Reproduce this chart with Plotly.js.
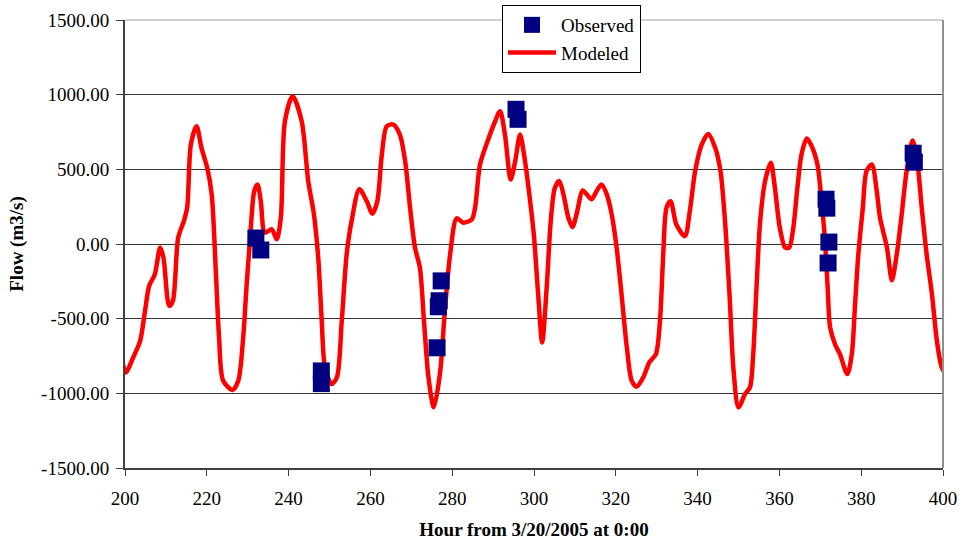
<!DOCTYPE html>
<html>
<head>
<meta charset="utf-8">
<script src="https://cdn.plot.ly/plotly-3.0.1.min.js"></script>
<style>html,body{margin:0;padding:0;background:#fff;}#chart{width:961px;height:542px;}</style>
</head>
<body>
<div id="chart"></div>
<script>
const modeledHours = [198.0,198.4,199.2,200.2,202.0,203.7,204.9,205.9,207.3,208.6,209.4,210.8,211.7,213.0,214.4,215.2,216.1,217.5,218.7,220.1,221.2,222.2,223.0,224.0,226.3,227.7,228.9,229.7,230.6,231.6,232.4,233.2,234.2,235.9,237.1,238.1,239.1,241.0,243.2,244.8,246.2,247.3,248.1,248.9,250.5,251.8,253.0,254.2,255.4,257.3,259.1,260.5,261.7,262.8,264.0,265.6,267.2,268.5,269.7,270.9,272.1,273.1,274.2,275.5,277.0,278.2,279.5,281.1,282.7,284.8,285.6,286.8,288.8,290.5,291.7,292.9,294.3,295.4,296.6,297.8,299.0,300.0,301.0,302.0,303.1,304.1,305.1,306.2,307.2,308.4,309.4,310.4,311.9,312.9,314.1,315.3,316.5,317.8,319.0,320.2,321.4,322.7,323.9,325.1,326.7,328.2,329.8,330.8,331.6,332.4,333.4,334.8,336.9,338.1,339.4,341.0,342.6,344.3,345.6,346.7,347.8,348.8,350.0,351.6,352.8,353.6,354.4,355.3,356.5,357.9,358.9,360.1,361.4,362.4,363.4,364.4,365.4,366.7,367.9,369.3,370.3,371.1,371.8,372.4,373.6,374.8,376.6,377.7,378.5,379.3,380.4,381.3,382.6,383.8,384.6,386.3,387.5,388.7,389.9,391.1,392.6,393.7,394.8,396.0,397.3,398.5,399.7,400.5,402.1];
const modeledFlow = [-130,-515,-760,-860,-760,-648,-448,-281,-202,-24,-91,-414,-381,42,154,243,666,789,644,510,332,-180,-626,-916,-978,-916,-626,-292,42,354,399,287,76,98,31,176,822,989,822,421,198,-114,-515,-827,-938,-894,-515,-69,154,366,287,203,287,600,789,800,733,555,243,-24,-158,-515,-894,-1094,-871,-448,-69,172,143,165,243,533,700,822,889,733,432,555,733,555,300,50,-330,-660,-292,154,376,421,332,176,114,198,359,332,299,354,399,332,198,-24,-336,-693,-916,-956,-894,-793,-738,-515,-69,243,287,131,53,221,488,666,737,644,488,154,-336,-849,-1094,-1005,-960,-738,-292,154,421,544,376,109,-24,-24,109,376,600,706,655,533,287,42,-292,-559,-671,-738,-871,-738,-403,-69,243,488,533,354,176,-24,-243,-69,198,488,693,555,243,-69,-336,-648,-827,-860,-626];
const observedHours = [232.0,233.2,248.0,248.0,276.3,276.6,276.8,277.3,295.6,296.1,371.4,371.6,372.1,371.9,392.7,393.0];
const observedFlow = [40,-40,-850,-935,-695,-420,-380,-247,902,835,300,240,13,-127,608,548];
const yTicks = [-1500,-1000,-500,0,500,1000,1500];
const xTicks = [200,220,240,260,280,300,320,340,360,380,400];

const serif = '"Liberation Serif", "Times New Roman", serif';

const traces = [
  {
    x: modeledHours, y: modeledFlow, name: "Modeled", type: "scatter", mode: "lines",
    line: {color: "#ff0000", width: 4.5, shape: "spline", smoothing: 0.8}
  },
  {
    x: observedHours, y: observedFlow, name: "Observed", type: "scatter", mode: "markers",
    marker: {symbol: "square", size: 17, color: "#000080"}
  }
];

const layout = {
  width: 961, height: 542,
  margin: {l: 125, r: 18, t: 20, b: 74, autoexpand: false},
  paper_bgcolor: "#ffffff", plot_bgcolor: "#ffffff",
  font: {family: serif, size: 19, color: "#000000"},
  showlegend: true,
  legend: {
    x: (502 - 125) / 818, y: (468 - 5) / 448, xanchor: "left", yanchor: "top",
    bgcolor: "#ffffff", bordercolor: "#000000", borderwidth: 1,
    traceorder: "reversed", itemwidth: 48, tracegroupgap: 0,
    font: {family: serif, size: 19, color: "#000000"}
  },
  xaxis: {
    range: [200, 400], tickvals: xTicks, ticktext: xTicks.map(String),
    ticks: "outside", ticklen: 6, tickcolor: "#404040", tickwidth: 1,
    ticklabelstandoff: 6,
    showline: true, linecolor: "#404040", linewidth: 2,
    showgrid: false, zeroline: false, automargin: false,
    tickfont: {family: serif, size: 19, color: "#000000"},
    title: {text: "<b>Hour from 3/20/2005 at 0:00</b>", standoff: 15, font: {family: serif, size: 19, color: "#000000"}}
  },
  yaxis: {
    range: [-1500, 1500], tickvals: yTicks, ticktext: yTicks.map(v => v.toFixed(2)),
    ticks: "outside", ticklen: 7, tickcolor: "#404040", tickwidth: 1,
    ticklabelstandoff: 3,
    showline: true, linecolor: "#404040", linewidth: 2,
    showgrid: true, gridcolor: "#333333", gridwidth: 1,
    zeroline: false, automargin: false,
    tickfont: {family: serif, size: 19, color: "#000000"},
    title: {text: "<b>Flow (m3/s)</b>", standoff: 12, font: {family: serif, size: 19, color: "#000000"}}
  },
  shapes: [
    {type: "line", xref: "paper", yref: "paper", x0: 0, x1: 1, y0: 1, y1: 1, line: {color: "#c0c0c0", width: 1.5}},
    {type: "line", xref: "paper", yref: "paper", x0: 1, x1: 1, y0: 0, y1: 1, line: {color: "#909090", width: 2}}
  ]
};

Plotly.newPlot("chart", traces, layout, {staticPlot: true, displayModeBar: false});
</script>
</body>
</html>
